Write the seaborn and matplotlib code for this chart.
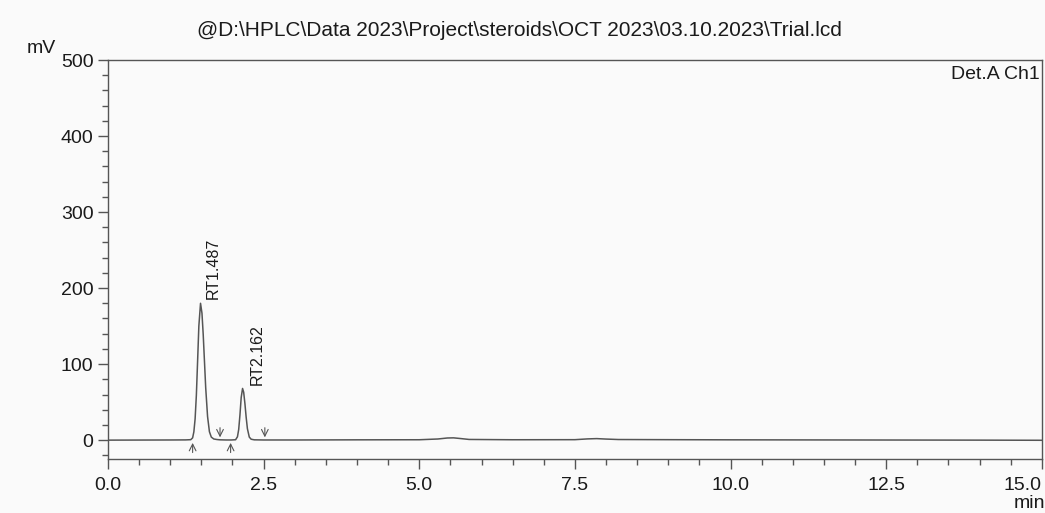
import matplotlib.pyplot as plt
import seaborn as sns
import pandas as pd
from matplotlib.ticker import MultipleLocator

# Chromatogram trace (time in min, signal in mV)
time_min = [0.0, 0.5, 1.0, 1.25, 1.33, 1.36, 1.38, 1.40, 1.42, 1.44, 1.46, 1.487,
            1.51, 1.53, 1.55, 1.57, 1.60, 1.63, 1.66, 1.70, 1.75, 1.80, 1.90,
            1.98, 2.05, 2.08, 2.10, 2.12, 2.14, 2.162, 2.18, 2.20, 2.22, 2.24,
            2.27, 2.30, 2.35, 2.50, 3.0, 4.0, 5.0, 5.3, 5.45, 5.55, 5.65, 5.8,
            6.5, 7.5, 7.7, 7.85, 8.0, 8.2, 9.0, 10.0, 11.0, 12.0, 13.0, 14.0, 15.0]
signal_mv = [0.0, 0.1, 0.2, 0.3, 0.6, 3, 11, 28, 59, 104, 150, 180,
             167, 139, 104, 69, 31, 11, 4, 1.5, 0.8, 0.4, 0.2,
             0.2, 0.5, 4.4, 14, 33, 56, 68, 63, 48, 30, 15,
             4, 1.2, 0.4, 0.2, 0.2, 0.4, 0.5, 1.5, 2.8, 3.0, 2.2, 0.9,
             0.5, 0.6, 1.6, 2.0, 1.4, 0.8, 0.6, 0.4, 0.3, 0.2, 0.1, 0.0, -0.2]

# Retention times and integration marks
rt_values = [1.487, 2.162]
rt_labels = ["RT1.487", "RT2.162"]
peak_starts = [1.36, 1.97]
peak_ends = [1.80, 2.52]

x_ticks = [0.0, 2.5, 5.0, 7.5, 10.0, 12.5, 15.0]
x_tick_labels = ["0.0", "2.5", "5.0", "7.5", "10.0", "12.5", "15.0"]

df = pd.DataFrame({"time": time_min, "signal": signal_mv})

sns.set_theme(style="ticks")
plt.rcParams["font.family"] = ["Liberation Sans", "DejaVu Sans"]

line_color = "#555555"
text_color = "#1a1a1a"
bg = "#fafafa"
fig = plt.figure(figsize=(10.45, 5.13), dpi=100)
fig.patch.set_facecolor(bg)
ax = fig.add_axes([0.1033, 0.105, 0.8937, 0.778])
ax.set_facecolor(bg)

sns.lineplot(data=df, x="time", y="signal", ax=ax, color=line_color, linewidth=1.1)

ax.set_xlim(0, 15)
ax.set_ylim(-25, 500)
ax.set_xticks(x_ticks)
ax.set_xticklabels(x_tick_labels)
ax.get_xticklabels()[-1].set_horizontalalignment("right")
ax.xaxis.set_minor_locator(MultipleLocator(0.5))
ax.yaxis.set_major_locator(MultipleLocator(100))
ax.yaxis.set_minor_locator(MultipleLocator(20))
ax.tick_params(axis="x", which="major", pad=6)
ax.tick_params(axis="both", which="major", length=7, width=1, color=line_color,
               labelsize=14, labelcolor=text_color)
ax.tick_params(axis="both", which="minor", length=4, width=1, color=line_color)
ax.set_xlabel("")
ax.set_ylabel("")
for side in ["left", "right", "top", "bottom"]:
    ax.spines[side].set_color(line_color)
    ax.spines[side].set_linewidth(1.0)

# Baseline events: up arrows at peak start, down arrows at peak end
for t in peak_starts:
    ax.annotate("", xy=(t, 0), xytext=(t, -20),
                arrowprops=dict(arrowstyle="->", color=line_color, lw=0.8))
for t in peak_ends:
    ax.annotate("", xy=(t, 0), xytext=(t, 20),
                arrowprops=dict(arrowstyle="->", color=line_color, lw=0.8))

# Rotated retention time labels
label_pos = [(1.685, 186), (2.39, 72)]
for (lx, ly), txt in zip(label_pos, rt_labels):
    ax.text(lx, ly, txt, rotation=90, ha="center", va="bottom",
            fontsize=11.5, color=text_color)

ax.text(0.998, 0.985, "Det.A Ch1", transform=ax.transAxes, ha="right", va="top",
        fontsize=14, color=text_color)
fig.text(0.497, 0.94, r"@D:\HPLC\Data 2023\Project\steroids\OCT 2023\03.10.2023\Trial.lcd",
         ha="center", va="center", fontsize=15, color=text_color)
fig.text(0.04, 0.905, "mV", ha="center", va="center", fontsize=14, color=text_color)
fig.text(0.9855, 0.018, "min", ha="center", va="center", fontsize=14, color=text_color)

fig.savefig("out.png", dpi=100, facecolor=fig.get_facecolor())
